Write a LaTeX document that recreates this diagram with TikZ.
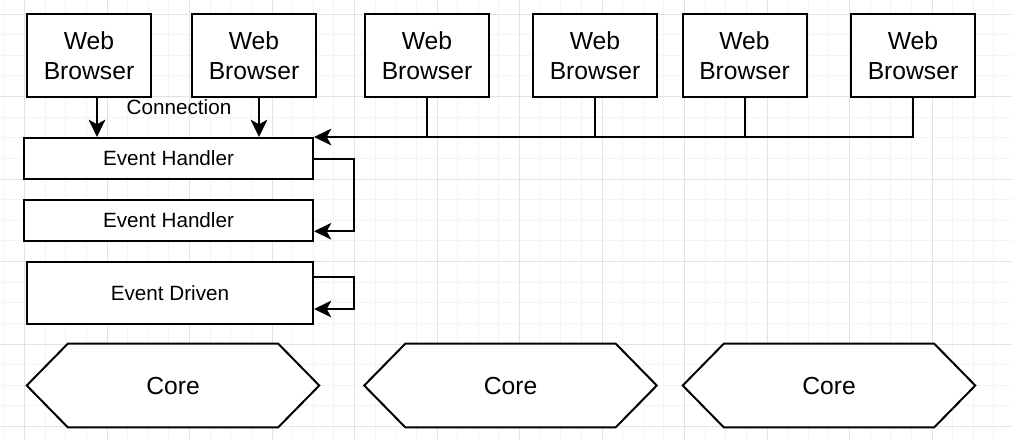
\documentclass[tikz,border=0pt]{standalone}
\usepackage{fontspec}
\setmainfont{Liberation Sans}
\usetikzlibrary{arrows.meta, positioning, calc, backgrounds}
\definecolor{gridminor}{RGB}{244,244,244}
\definecolor{gridmajor}{RGB}{226,226,226}

\begin{document}
\begin{tikzpicture}[
    x=0.75pt, y=-0.75pt,
    browser/.style={rectangle, draw, line width=1.5pt, fill=white, minimum width=93pt, minimum height=62.25pt, align=center, font=\fontsize{18.5}{22.5}\selectfont},
    handler/.style={rectangle, draw, line width=1.5pt, fill=white, minimum width=216.75pt, minimum height=#1, font=\fontsize{15.5}{18}\selectfont},
    handler/.default=30.75pt,
    core/.style={minimum width=219pt, minimum height=62.25pt, font=\fontsize{18.5}{22.5}\selectfont},
    hexline/.style={draw, line width=1.5pt, fill=white, line join=miter},
    arrow/.style={-{Stealth[length=13pt, width=12.5pt, inset=3.5pt]}, line width=1.5pt},
    link/.style={line width=1.5pt},
]
    \useasboundingbox (0,0) rectangle (1012,440);

    % Grid
    \begin{scope}[on background layer]
        \fill[white] (0,0) rectangle (1012,440);
        \foreach \i in {0,...,48}
            \draw[gridminor, line width=0.75pt] ({3.875+20.625*\i},0) -- ++(0,440);
        \foreach \i in {0,...,20}
            \draw[gridminor, line width=0.75pt] (0,{14+20.625*\i}) -- ++(1012,0);
        \foreach \i in {0,...,11}
            \draw[gridmajor, line width=0.75pt] ({24.5+82.5*\i},0) -- ++(0,440);
        \foreach \i in {0,...,5}
            \draw[gridmajor, line width=0.75pt] (0,{14+82.5*\i}) -- ++(1012,0);
    \end{scope}

    % Web browsers
    \node[browser] (wb1) at (89,55.5) {Web\\Browser};
    \node[browser] (wb2) at (254,55.5) {Web\\Browser};
    \node[browser] (wb3) at (427,55.5) {Web\\Browser};
    \node[browser] (wb4) at (595,55.5) {Web\\Browser};
    \node[browser] (wb5) at (744.5,55.5) {Web\\Browser};
    \node[browser] (wb6) at (913,55.5) {Web\\Browser};

    % Handlers
    \node[handler] (eh1) at (168.5,158.5) {Event Handler};
    \node[handler, below=14.25pt of eh1] (eh2) {Event Handler};
    \node[handler=46.5pt, minimum width=214.5pt, below=14.25pt of eh2.south east, anchor=north east] (ed) {Event Driven};

    % Cores
    \node[core] (core1) at (173,385.5) {Core};
    \node[core] (core2) at (510.5,385.5) {Core};
    \node[core] (core3) at (829,385.5) {Core};
    \begin{scope}[on background layer]
        \foreach \c in {core1,core2,core3}
            \draw[hexline] (\c.west) -- ($(\c.north west)+(41,0)$) -- ($(\c.north east)+(-41,0)$)
                -- (\c.east) -- ($(\c.south east)+(-41,0)$) -- ($(\c.south west)+(41,0)$) -- cycle;
    \end{scope}

    % Connections
    \draw[arrow] ([xshift=6pt]wb1.south) -- ([xshift=6pt]wb1.south |- eh1.north);
    \draw[arrow] ([xshift=3.75pt]wb2.south) -- ([xshift=3.75pt]wb2.south |- eh1.north);
    \node[font=\fontsize{15.5}{18}\selectfont] (conn) at (179,107) {Connection};

    \draw[arrow] (wb6.south) |- (eh1.north east);
    \foreach \b in {wb3,wb4,wb5}
        \draw[link] (\b.south) -- (\b.south |- eh1.north);

    % Loops
    \draw[arrow] (eh1.east) -- ++(40,0) |- ($(eh2.north east)!0.75!(eh2.south east)$);
    \draw[arrow] ($(ed.north east)!0.25!(ed.south east)$) -- ++(40,0) |- ($(ed.north east)!0.75!(ed.south east)$);

\end{tikzpicture}
\end{document}
